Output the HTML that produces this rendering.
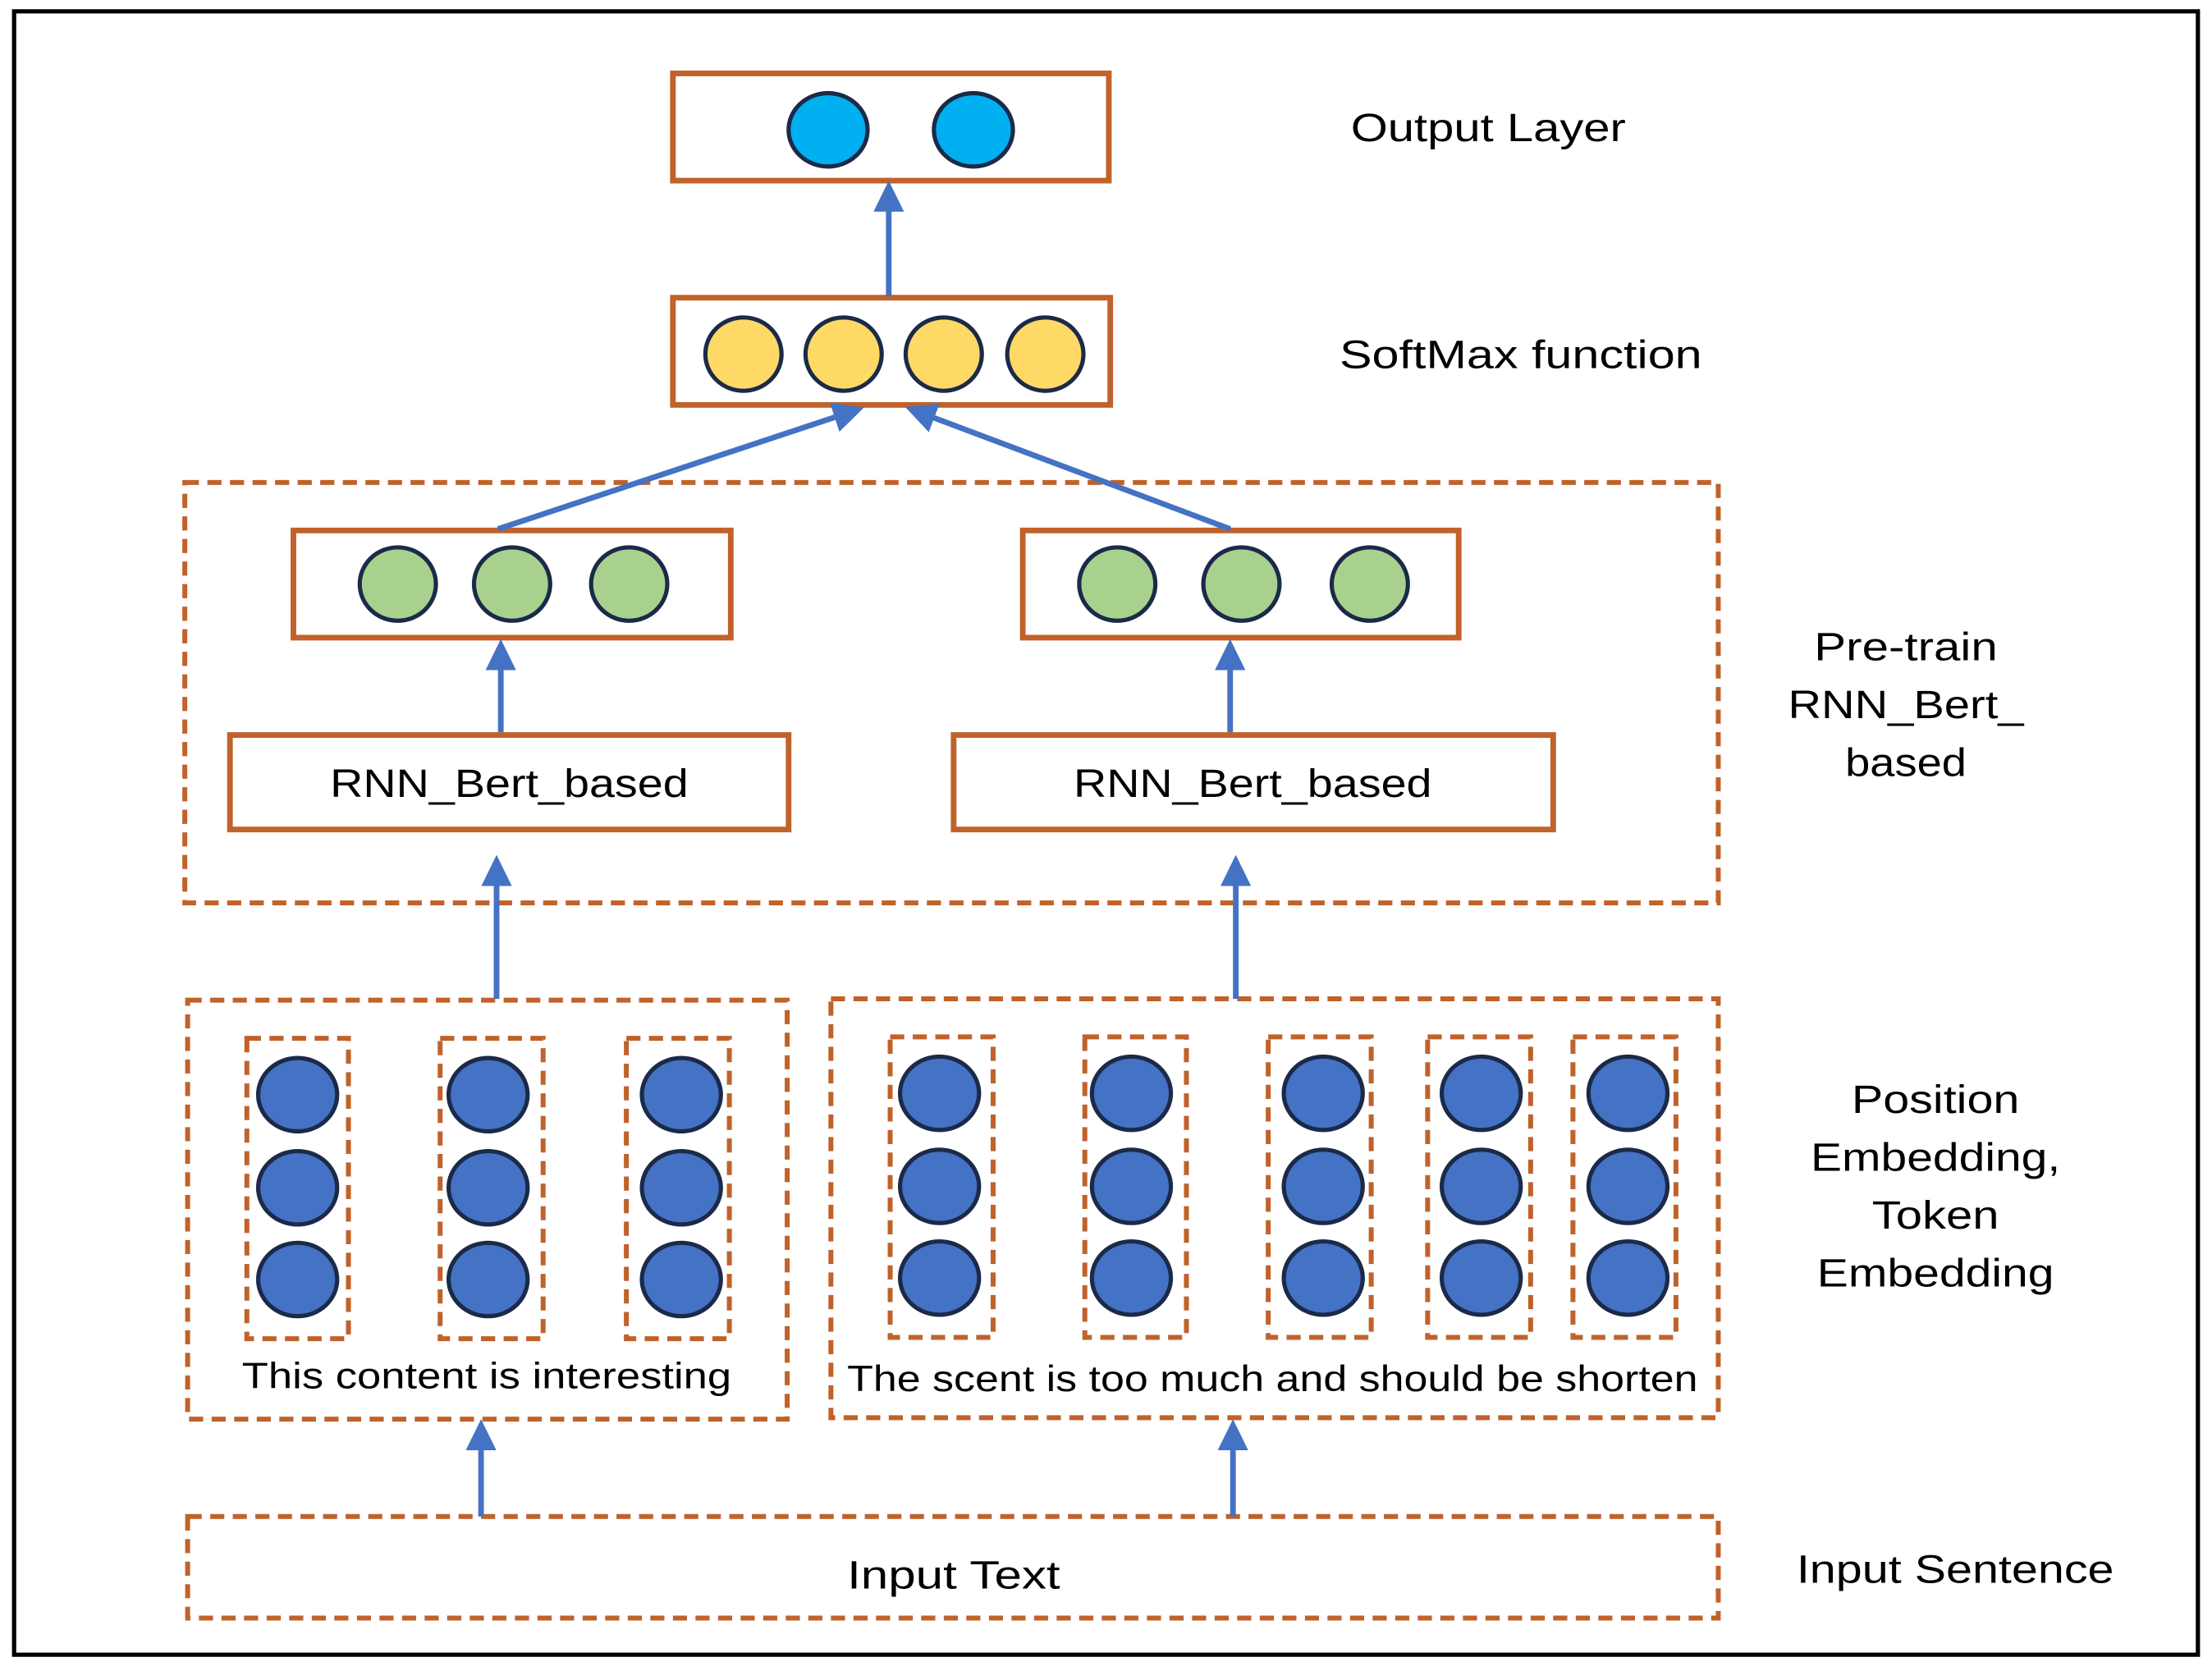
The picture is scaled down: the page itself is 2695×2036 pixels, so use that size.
<!DOCTYPE html>
<html><head><meta charset="utf-8"><style>html,body{margin:0;padding:0;background:#fff}svg{display:block}</style></head>
<body>
<svg width="2695" height="2036" viewBox="0 0 1568 1184.5" xmlns="http://www.w3.org/2000/svg" font-family="Liberation Sans, sans-serif">
<defs>
<marker id="ah" markerWidth="6" markerHeight="6" refX="3" refY="3" orient="auto" markerUnits="strokeWidth"><path d="M0,0.3 L5.5,3 L0,5.7 z" fill="#4472C4"/></marker>
</defs>
<rect x="0" y="0" width="1568" height="1185" fill="#fff"/>
<rect x="10" y="8" width="1548" height="1165" fill="none" stroke="#000" stroke-width="3"/>
<g fill="none" stroke="#C0622A" stroke-width="4">
<rect x="477" y="52" width="309" height="76"/>
<rect x="477" y="211" width="310" height="76"/>
<rect x="208" y="376" width="310" height="76"/>
<rect x="725" y="376" width="309" height="76"/>
<rect x="163" y="521" width="396" height="67"/>
<rect x="676" y="521" width="425" height="67"/>
</g>
<g fill="none" stroke="#C0622A" stroke-width="3.5" stroke-dasharray="10,6">
<rect x="131" y="342" width="1087" height="298"/>
<rect x="133" y="709" width="425" height="297"/>
<rect x="589" y="708" width="629" height="297"/>
<rect x="133" y="1075" width="1085" height="72"/>
<rect x="175" y="736" width="72" height="213"/>
<rect x="312" y="736" width="73" height="213"/>
<rect x="444" y="736" width="73" height="213"/>
<rect x="631" y="735" width="73" height="213"/>
<rect x="769" y="735" width="72" height="213"/>
<rect x="899" y="735" width="73" height="213"/>
<rect x="1012" y="735" width="73" height="213"/>
<rect x="1115" y="735" width="73" height="213"/>
</g>
<g stroke="#1B2A48" stroke-width="3">
<ellipse cx="587" cy="92" rx="28" ry="26" fill="#00B0F0"/>
<ellipse cx="690" cy="92" rx="28" ry="26" fill="#00B0F0"/>
<g fill="#FFD966">
<ellipse cx="527" cy="251" rx="27" ry="26"/><ellipse cx="598" cy="251" rx="27" ry="26"/><ellipse cx="669" cy="251" rx="27" ry="26"/><ellipse cx="741" cy="251" rx="27" ry="26"/>
</g>
<g fill="#A9D18E">
<ellipse cx="282" cy="414" rx="27" ry="26"/><ellipse cx="363" cy="414" rx="27" ry="26"/><ellipse cx="446" cy="414" rx="27" ry="26"/>
<ellipse cx="792" cy="414" rx="27" ry="26"/><ellipse cx="880" cy="414" rx="27" ry="26"/><ellipse cx="971" cy="414" rx="27" ry="26"/>
</g>
<g fill="#4472C4">
<ellipse cx="211" cy="776" rx="28" ry="26"/><ellipse cx="211" cy="842" rx="28" ry="26"/><ellipse cx="211" cy="907" rx="28" ry="26"/>
<ellipse cx="346" cy="776" rx="28" ry="26"/><ellipse cx="346" cy="842" rx="28" ry="26"/><ellipse cx="346" cy="907" rx="28" ry="26"/>
<ellipse cx="483" cy="776" rx="28" ry="26"/><ellipse cx="483" cy="842" rx="28" ry="26"/><ellipse cx="483" cy="907" rx="28" ry="26"/>
<ellipse cx="666" cy="775" rx="28" ry="26"/><ellipse cx="666" cy="841" rx="28" ry="26"/><ellipse cx="666" cy="906" rx="28" ry="26"/>
<ellipse cx="802" cy="775" rx="28" ry="26"/><ellipse cx="802" cy="841" rx="28" ry="26"/><ellipse cx="802" cy="906" rx="28" ry="26"/>
<ellipse cx="938" cy="775" rx="28" ry="26"/><ellipse cx="938" cy="841" rx="28" ry="26"/><ellipse cx="938" cy="906" rx="28" ry="26"/>
<ellipse cx="1050" cy="775" rx="28" ry="26"/><ellipse cx="1050" cy="841" rx="28" ry="26"/><ellipse cx="1050" cy="906" rx="28" ry="26"/>
<ellipse cx="1154" cy="775" rx="28" ry="26"/><ellipse cx="1154" cy="841" rx="28" ry="26"/><ellipse cx="1154" cy="906" rx="28" ry="26"/>
</g>
</g>
<g stroke="#4472C4" stroke-width="4" marker-end="url(#ah)">
<line x1="630" y1="210" x2="630" y2="138"/>
<line x1="353" y1="375" x2="603" y2="292"/>
<line x1="872" y1="375" x2="651" y2="292"/>
<line x1="355" y1="519" x2="355" y2="463"/>
<line x1="872" y1="519" x2="872" y2="463"/>
<line x1="352" y1="708" x2="352" y2="616"/>
<line x1="876" y1="708" x2="876" y2="616"/>
<line x1="341" y1="1075" x2="341" y2="1016"/>
<line x1="874" y1="1075" x2="874" y2="1016"/>
</g>
<g fill="#000" font-size="28" text-anchor="middle" lengthAdjust="spacingAndGlyphs">
<text x="361" y="565" textLength="254" lengthAdjust="spacingAndGlyphs">RNN_Bert_based</text>
<text x="888" y="565" textLength="254" lengthAdjust="spacingAndGlyphs">RNN_Bert_based</text>
<text x="345" y="984" font-size="26" textLength="347" lengthAdjust="spacingAndGlyphs">This content is interesting</text>
<text x="902" y="986" font-size="26" textLength="603" lengthAdjust="spacingAndGlyphs">The scent is too much and should be shorten</text>
<text x="676" y="1126" textLength="151" lengthAdjust="spacingAndGlyphs">Input Text</text>
<text x="1055" y="100" textLength="195" lengthAdjust="spacingAndGlyphs">Output Layer</text>
<text x="1078" y="261" textLength="257" lengthAdjust="spacingAndGlyphs">SoftMax function</text>
<text x="1351" y="468" textLength="130" lengthAdjust="spacingAndGlyphs">Pre-train</text>
<text x="1351" y="509" textLength="167" lengthAdjust="spacingAndGlyphs">RNN_Bert_</text>
<text x="1351" y="550" textLength="86" lengthAdjust="spacingAndGlyphs">based</text>
<text x="1372" y="789" textLength="119" lengthAdjust="spacingAndGlyphs">Position</text>
<text x="1372" y="830" textLength="177" lengthAdjust="spacingAndGlyphs">Embedding,</text>
<text x="1372" y="871" textLength="90" lengthAdjust="spacingAndGlyphs">Token</text>
<text x="1372" y="912" textLength="168" lengthAdjust="spacingAndGlyphs">Embedding</text>
<text x="1386" y="1122" textLength="225" lengthAdjust="spacingAndGlyphs">Input Sentence</text>
</g>
</svg>
</body></html>
